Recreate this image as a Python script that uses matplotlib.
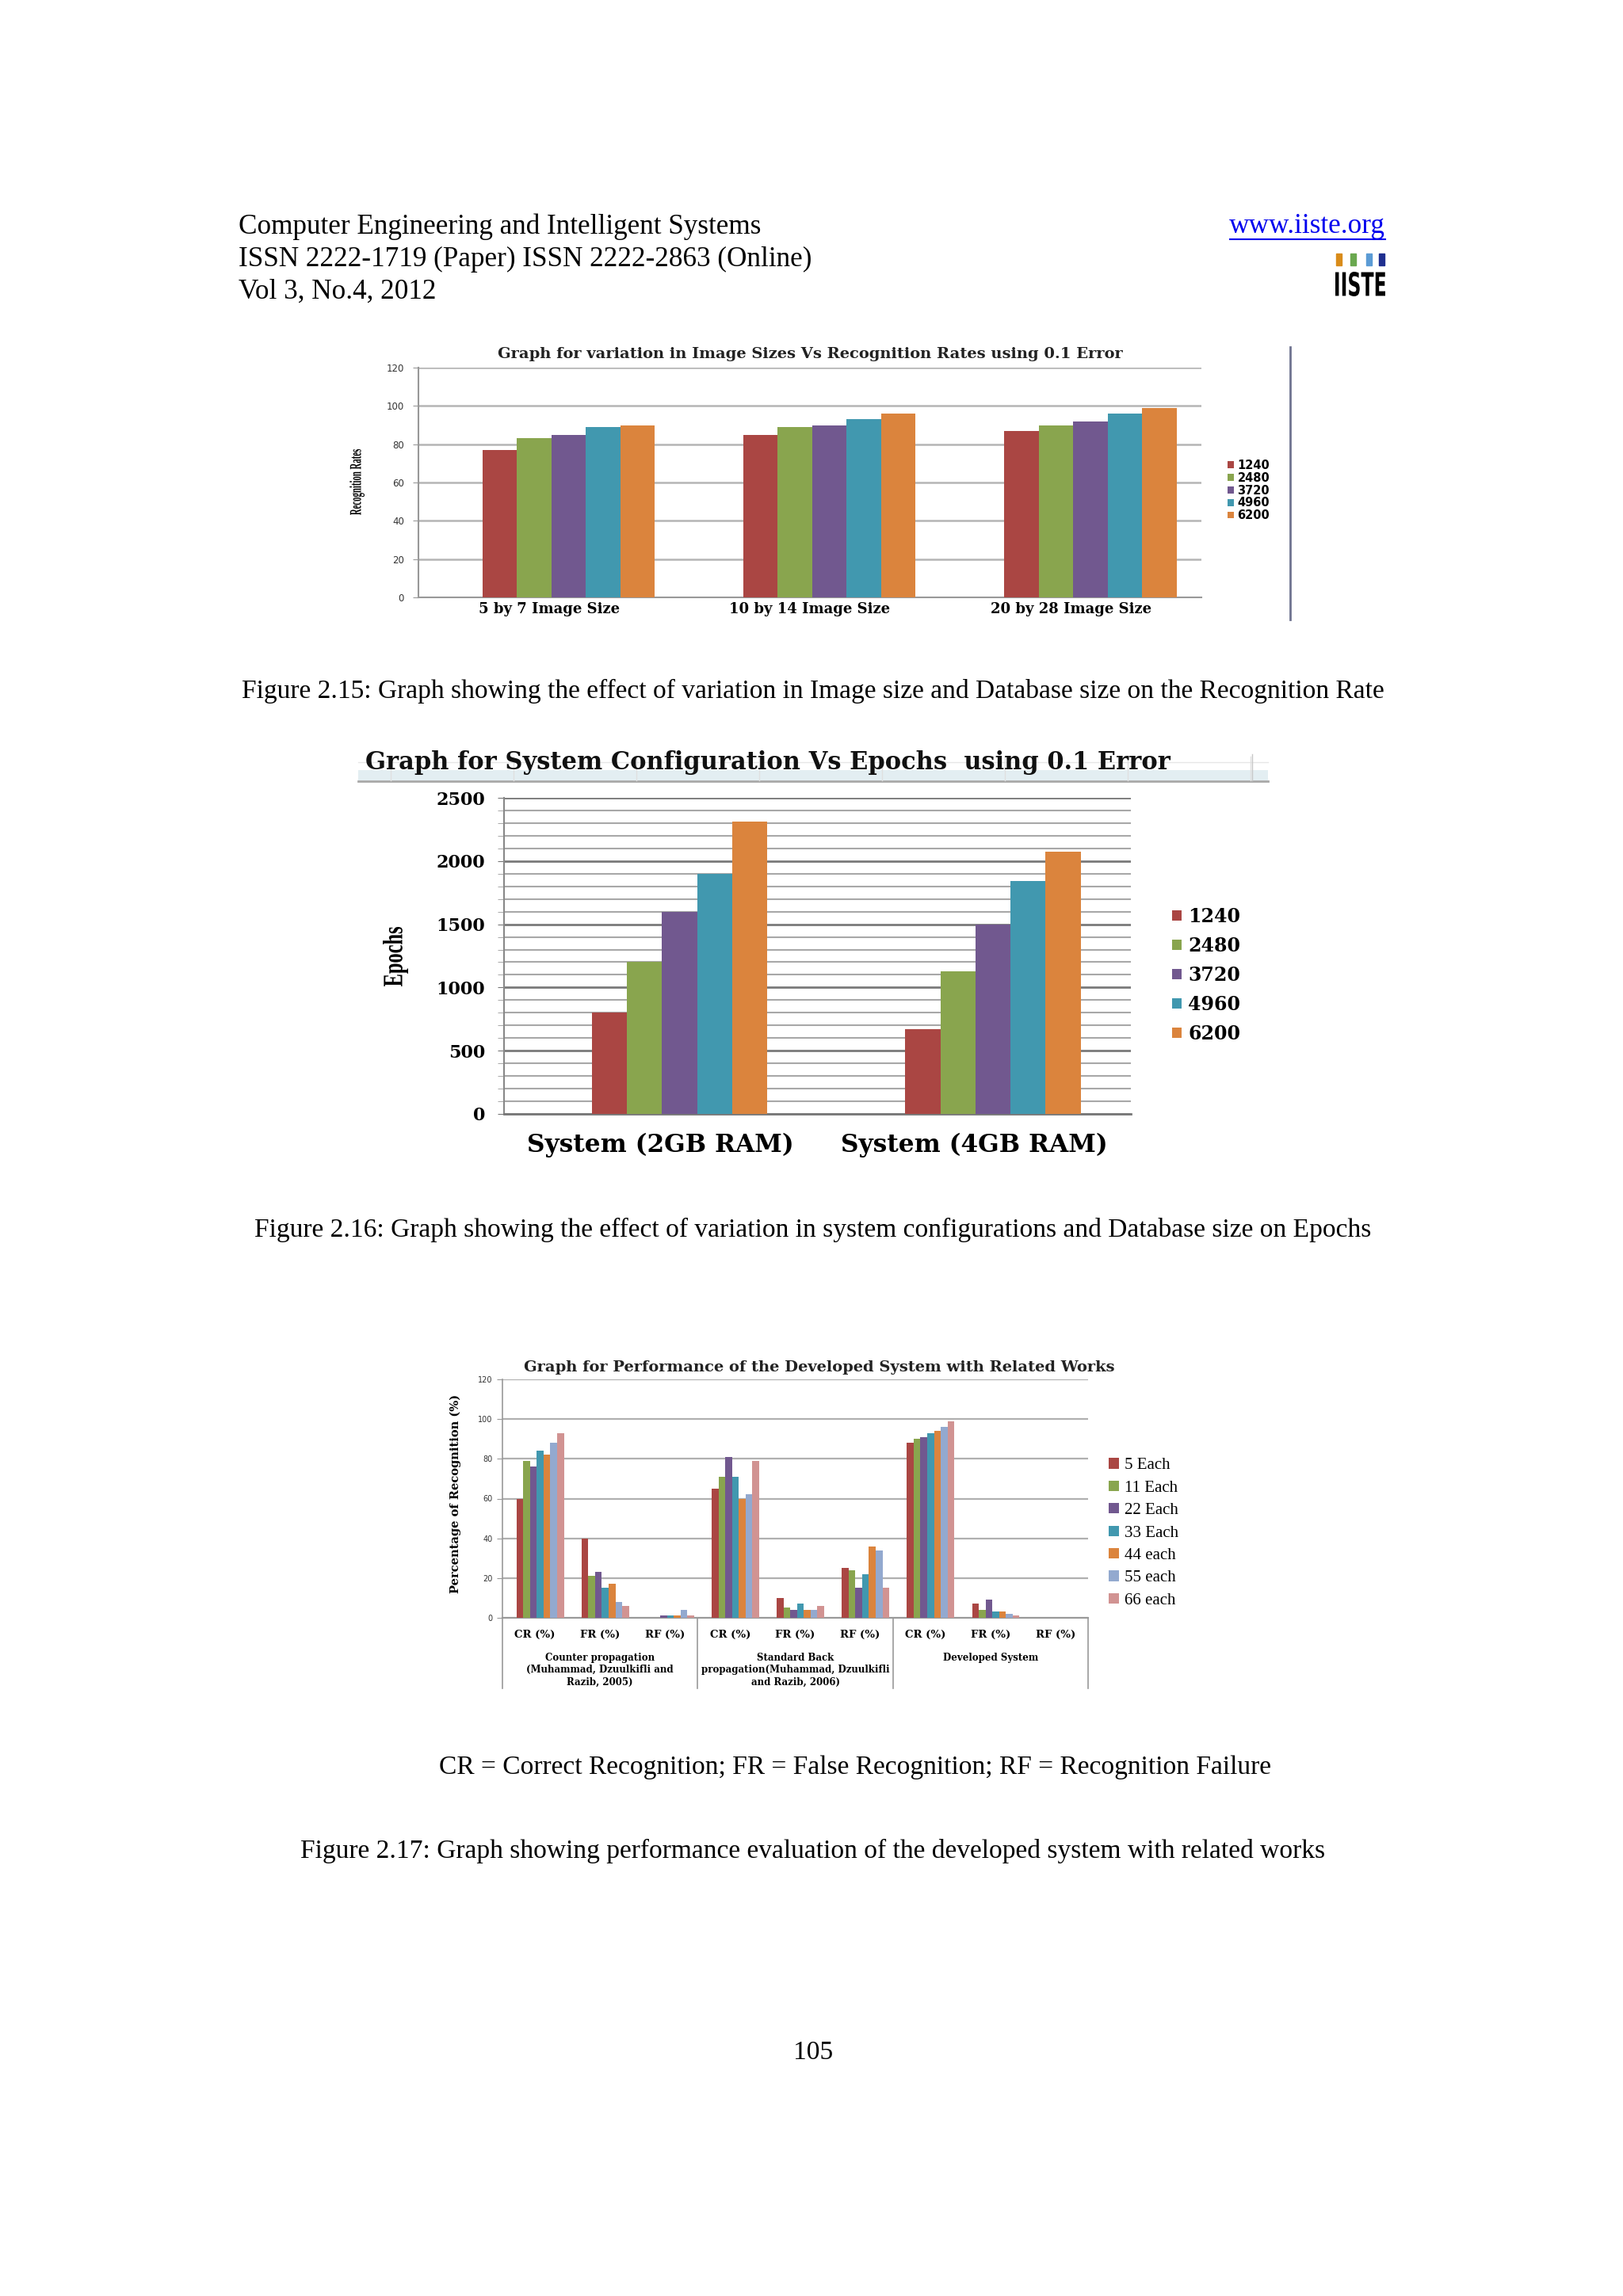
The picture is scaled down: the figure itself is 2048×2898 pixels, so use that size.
import matplotlib
matplotlib.use("Agg")
import matplotlib.pyplot as plt
import numpy as np
from matplotlib.lines import Line2D
from matplotlib.patches import Rectangle, PathPatch
from matplotlib.textpath import TextPath
from matplotlib.font_manager import FontProperties
from matplotlib.transforms import Affine2D

# ---- data: figure 2.15 ----
image_sizes = ['5 by 7 Image Size', '10 by 14 Image Size', '20 by 28 Image Size']
db_sizes = ['1240', '2480', '3720', '4960', '6200']
rate_1240 = [77, 85, 87]
rate_2480 = [83, 89, 90]
rate_3720 = [85, 90, 92]
rate_4960 = [89, 93, 96]
rate_6200 = [90, 96, 99]

# ---- data: figure 2.16 ----
systems = ['System (2GB RAM)', 'System (4GB RAM)']
epochs_1240 = [800, 670]
epochs_2480 = [1200, 1130]
epochs_3720 = [1600, 1500]
epochs_4960 = [1900, 1840]
epochs_6200 = [2315, 2075]

# ---- data: figure 2.17 ----
metrics = ['CR (%)', 'FR (%)', 'RF (%)'] * 3
works = ['Counter propagation\n(Muhammad, Dzuulkifli and\nRazib, 2005)',
         'Standard Back\npropagation(Muhammad, Dzuulkifli\nand Razib, 2006)',
         'Developed System']
per_class = ['5 Each', '11 Each', '22 Each', '33 Each', '44 each', '55 each', '66 each']
each_5 = [60, 40, 0, 65, 10, 25, 88, 7, 0]
each_11 = [79, 21, 0, 71, 5, 24, 90, 4, 0]
each_22 = [76, 23, 1, 81, 4, 15, 91, 9, 0]
each_33 = [84, 15, 1, 71, 7, 22, 93, 3, 0]
each_44 = [82, 17, 1, 60, 4, 36, 94, 3, 0]
each_55 = [88, 8, 4, 62, 4, 34, 96, 2, 0]
each_66 = [93, 6, 1, 79, 6, 15, 99, 1, 0]

colors = ['#AA4643', '#89A54E', '#71588F', '#4198AF', '#DB843D', '#93A9CF', '#D19392']

W, H = 2048, 2898
fig = plt.figure(figsize=(W / 100, H / 100), dpi=100)
fig.patch.set_facecolor('white')

SERIF = 'Liberation Serif'
WIDE = 'DejaVu Serif'


def rect(x0, y0, x1, y1):
    return [x0 / W, 1 - y1 / H, (x1 - x0) / W, (y1 - y0) / H]


def ftext(x, y, s, **kw):
    return fig.text(x / W, 1 - y / H, s, **kw)


def fline(xs, ys, **kw):
    fig.add_artist(Line2D([x / W for x in xs], [1 - y / H for y in ys],
                          transform=fig.transFigure, **kw))


def boxed_text(s, x0, y0, x1, y1, family, weight='bold', rotate=False, color='black'):
    # text squeezed/stretched into a pixel box (the scanned page has distorted labels)
    tp = TextPath((0, 0), s, size=100, prop=FontProperties(family=family, weight=weight))
    if rotate:
        tp = Affine2D().rotate_deg(90).transform_path(tp)
    ext = tp.get_extents()
    tr = (Affine2D().translate(-ext.x0, -ext.y0)
          .scale((x1 - x0) / ext.width, (y1 - y0) / ext.height)
          .translate(x0, H - y1).scale(1 / W, 1 / H))
    fig.add_artist(PathPatch(tp, transform=tr + fig.transFigure, color=color, lw=0))


# ---- page header ----
ftext(301, 286, 'Computer Engineering and Intelligent Systems', family=SERIF, fontsize=25.3, va='center')
ftext(301, 327, 'ISSN 2222-1719 (Paper) ISSN 2222-2863 (Online)', family=SERIF, fontsize=25.3, va='center')
ftext(301, 368, 'Vol 3, No.4, 2012', family=SERIF, fontsize=25.3, va='center')
ftext(1748, 286, 'www.iiste.org', family=SERIF, fontsize=25.3, va='center', ha='right', color='#0000EE')
fline([1552, 1748], [302, 302], color='#0000EE', lw=1.5)
# logo
for lx, lc in zip([1686, 1704, 1724, 1740], ['#D98C1A', '#6AA84F', '#5B9BD5', '#1F2F8F']):
    fig.add_artist(Rectangle((lx / W, 1 - 335 / H), 7 / W, 15 / H, transform=fig.transFigure,
                             color=lc))
boxed_text('IISTE', 1685, 343, 1748, 374, 'DejaVu Sans')

# ---- figure 2.15 ----
ax1 = fig.add_axes(rect(528, 464, 1516, 754))
x = np.arange(len(image_sizes))
bw = 0.132
for i, vals in enumerate([rate_1240, rate_2480, rate_3720, rate_4960, rate_6200]):
    ax1.bar(x + 0.075 + (i - 2) * bw, vals, bw, color=colors[i], label=db_sizes[i], zorder=3)
ax1.set_xlim(-0.5, 2.5)
ax1.set_ylim(0, 120)
ax1.set_yticks(range(0, 121, 20))
ax1.tick_params(axis='y', labelsize=8.5, length=5, color='#999999', pad=8, labelcolor='#333333')
ax1.set_xticks(x)
ax1.set_xticklabels(image_sizes, family=WIDE, weight='bold', fontsize=13)
ax1.tick_params(axis='x', length=0, pad=4)
ax1.grid(axis='y', color='#B5B5B5', lw=1.8, zorder=0)
for s in ['top', 'right']:
    ax1.spines[s].set_visible(False)
ax1.spines['left'].set_color('#999999')
ax1.spines['bottom'].set_color('#999999')
ax1.spines['left'].set_linewidth(1.5)
ax1.spines['bottom'].set_linewidth(1.5)
ftext(1022, 447, 'Graph for variation in Image Sizes Vs Recognition Rates using 0.1 Error',
      family=WIDE, weight='bold', fontsize=14, ha='center', va='center', color='#222222')
boxed_text('Recognition Rates', 441, 567, 460, 650, SERIF, rotate=True)
ax1.legend(loc='center left', bbox_to_anchor=(1549 / W, 1 - 619 / H), bbox_transform=fig.transFigure,
           frameon=False, handlelength=0.55, handleheight=0.55, handletextpad=0.3, labelspacing=0.06,
           borderpad=0, borderaxespad=0, prop={'family': 'DejaVu Sans', 'weight': 'bold', 'size': 10.5})
fline([1628, 1628], [438, 782], color='#6F7390', lw=2)

ftext(1026, 872, 'Figure 2.15: Graph showing the effect of variation in Image size and Database size on the Recognition Rate',
      family=SERIF, fontsize=24.1, ha='center', va='center')

# ---- figure 2.16 ----
# spreadsheet strip behind the title
fig.add_artist(Rectangle((452 / W, 1 - 985 / H), (1600 - 452) / W, 13 / H, transform=fig.transFigure,
                         color='#E3EEF2', lw=0))
fline([452, 1600], [986, 986], color='#A8A8A8', lw=2)
fline([452, 1600], [962, 962], color='#E6E6E6', lw=1)
for cx in range(493, 1600, 155):
    fline([cx, cx], [955, 985], color='#E0E0E0', lw=1)
fline([1580, 1580], [952, 985], color='#C8C8C8', lw=1)
ftext(461, 962, 'Graph for System Configuration Vs Epochs  using 0.1 Error', family=WIDE,
      weight='bold', fontsize=22, ha='left', va='center', color='#111111')

ax2 = fig.add_axes(rect(636, 1007, 1427, 1406))
x2 = np.arange(len(systems))
bw2 = 0.112
for i, vals in enumerate([epochs_1240, epochs_2480, epochs_3720, epochs_4960, epochs_6200]):
    ax2.bar(x2 + 0.06 + (i - 2) * bw2, vals, bw2, color=colors[i], label=db_sizes[i], zorder=3)
ax2.set_xlim(-0.5, 1.5)
ax2.set_ylim(0, 2500)
ax2.set_yticks(range(0, 2501, 500))
ax2.set_yticks(range(0, 2501, 100), minor=True)
ax2.set_yticklabels([str(v) for v in range(0, 2501, 500)], family=WIDE, weight='bold', fontsize=16)
ax2.tick_params(axis='y', which='major', length=6, color='#777777', pad=11)
ax2.tick_params(axis='y', which='minor', length=6, color='#999999')
ax2.set_xticks(x2)
ax2.set_xticklabels(systems, family=WIDE, weight='bold', fontsize=22.5)
ax2.tick_params(axis='x', length=0, pad=17)
ax2.grid(axis='y', which='major', color='#7A7A7A', lw=2, zorder=0)
ax2.grid(axis='y', which='minor', color='#A8A8A8', lw=1.5, zorder=0)
for s in ['top', 'right']:
    ax2.spines[s].set_visible(False)
ax2.spines['left'].set_color('#888888')
ax2.spines['bottom'].set_color('#777777')
ax2.spines['left'].set_linewidth(1.5)
ax2.spines['bottom'].set_linewidth(2)
boxed_text('Epochs', 483, 1170, 515, 1245, SERIF, rotate=True)
ax2.legend(loc='center left', bbox_to_anchor=(1479 / W, 1 - 1231 / H), bbox_transform=fig.transFigure,
           frameon=False, handlelength=0.5, handleheight=0.5, handletextpad=0.35, labelspacing=0.55,
           borderpad=0, borderaxespad=0, prop={'family': WIDE, 'weight': 'bold', 'size': 17})

ftext(1026, 1552, 'Figure 2.16: Graph showing the effect of variation in system configurations and Database size on Epochs',
      family=SERIF, fontsize=24.1, ha='center', va='center')

# ---- figure 2.17 ----
ax3 = fig.add_axes(rect(634, 1741, 1373, 2042))
x3 = np.arange(len(metrics))
bw3 = 0.104
for i, vals in enumerate([each_5, each_11, each_22, each_33, each_44, each_55, each_66]):
    ax3.bar(x3 + 0.08 + (i - 3) * bw3, vals, bw3, color=colors[i], label=per_class[i], zorder=3)
ax3.set_xlim(-0.5, len(metrics) - 0.5)
ax3.set_ylim(0, 120)
ax3.set_yticks(range(0, 121, 20))
ax3.tick_params(axis='y', labelsize=7, length=5, color='#999999', pad=4, labelcolor='#333333')
ax3.set_xticks(x3)
ax3.set_xticklabels(metrics, family=WIDE, weight='bold', fontsize=9.5)
ax3.tick_params(axis='x', length=0, pad=11)
ax3.grid(axis='y', color='#B0B0B0', lw=1.6, zorder=0)
for s in ['top', 'right']:
    ax3.spines[s].set_visible(False)
ax3.spines['left'].set_color('#999999')
ax3.spines['bottom'].set_color('#999999')
ax3.spines['left'].set_linewidth(1.2)
ax3.spines['bottom'].set_linewidth(1.5)
trans = ax3.get_xaxis_transform()
for b in [-0.5, 2.5, 5.5, 8.5]:
    ax3.plot([b, b], [0, -0.296], transform=trans, color='#999999', lw=1.2, clip_on=False)
for g, label in enumerate(works):
    ax3.text(3 * g + 1, -0.145, label, transform=trans, family=WIDE, weight='bold', fontsize=8.5,
             ha='center', va='top', linespacing=1.25)
ftext(1034, 1726, 'Graph for Performance of the Developed System with Related Works',
      family=WIDE, weight='bold', fontsize=14, ha='center', va='center', color='#222222')
ftext(575, 1885, 'Percentage of Recognition (%)', family=WIDE, weight='bold', fontsize=10.5,
      rotation=90, ha='center', va='center')
ax3.legend(loc='center left', bbox_to_anchor=(1399 / W, 1 - 1935 / H), bbox_transform=fig.transFigure,
           frameon=False, handlelength=0.6, handleheight=0.6, handletextpad=0.35, labelspacing=0.45,
           borderpad=0, borderaxespad=0, prop={'family': SERIF, 'size': 15})

ftext(1079, 2231, 'CR = Correct Recognition; FR = False Recognition; RF = Recognition Failure',
      family=SERIF, fontsize=24.1, ha='center', va='center')
ftext(1026, 2336, 'Figure 2.17: Graph showing performance evaluation of the developed system with related works',
      family=SERIF, fontsize=24.1, ha='center', va='center')
ftext(1026, 2591, '105', family=SERIF, fontsize=24.1, ha='center', va='center')

fig.savefig('out.png', dpi=100, facecolor='white')
